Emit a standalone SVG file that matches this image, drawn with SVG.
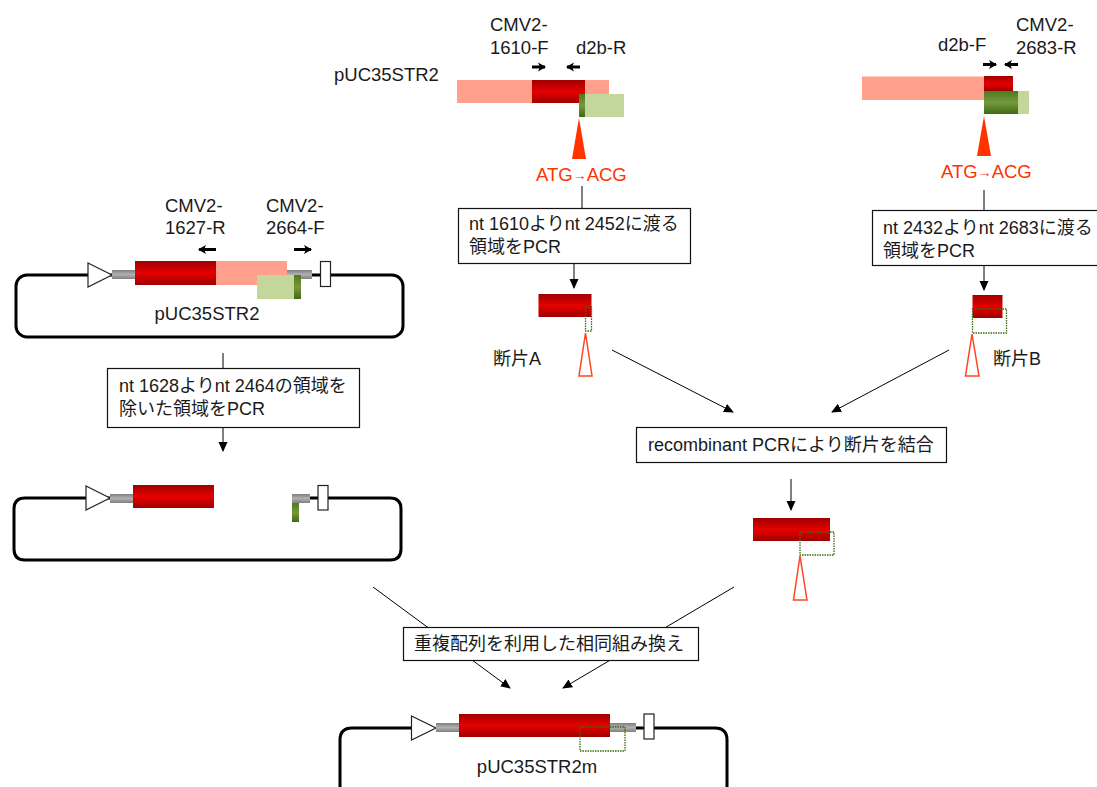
<svg xmlns="http://www.w3.org/2000/svg" width="1097" height="787" viewBox="0 0 1097 787">
<defs>
<linearGradient id="gr" x1="0" y1="0" x2="0" y2="1"><stop offset="0" stop-color="#a00000"/><stop offset="0.5" stop-color="#e60000"/><stop offset="1" stop-color="#a00000"/></linearGradient>
<linearGradient id="gg" x1="0" y1="0" x2="0" y2="1"><stop offset="0" stop-color="#4c7a1e"/><stop offset="0.5" stop-color="#76983c"/><stop offset="1" stop-color="#3f6a14"/></linearGradient>
<linearGradient id="gy" x1="0" y1="0" x2="0" y2="1"><stop offset="0" stop-color="#808080"/><stop offset="0.5" stop-color="#b0b0b0"/><stop offset="1" stop-color="#808080"/></linearGradient>
<marker id="ah" markerUnits="userSpaceOnUse" markerWidth="10" markerHeight="10" refX="9" refY="5" orient="auto"><path d="M0,0.5L10,5L0,9.500Z" fill="#000"/></marker>
<marker id="pa" markerUnits="userSpaceOnUse" markerWidth="8" markerHeight="10" refX="7" refY="5" orient="auto"><path d="M0,0.5L8,5L0,9.500L2,5Z" fill="#000"/></marker>
</defs>
<style>
text{font-family:"Liberation Sans","Noto Sans CJK JP",sans-serif;font-size:18.500px;fill:#1a1a1a}
.c{text-anchor:middle}
.t{font-size:18px}
.red{fill:url(#gr)}.grn{fill:url(#gg)}.gry{fill:url(#gy)}
.sal{fill:#ff9f8c}.lg{fill:#c4d79b}
.loop{fill:none;stroke:#000;stroke-width:3}
.tri{fill:#fff;stroke:#222;stroke-width:1.2}
.wb{fill:#fff;stroke:#222;stroke-width:1.2}
.box{fill:#fff;stroke:#111;stroke-width:1.2}
.dot{fill:none;stroke:#3a6a10;stroke-width:1.300;stroke-dasharray:1.500 1}
.rt{fill:#ff3300}.ot{fill:#fff;stroke:#ff4422;stroke-width:1.500}
.ln{stroke:#000;stroke-width:1;fill:none}
.ar{stroke:#000;stroke-width:1;fill:none;marker-end:url(#ah)}
.pr{stroke:#000;stroke-width:3;fill:none;marker-end:url(#pa)}
.atg{fill:#ff3300}
.atg tspan{fill:#ff3300;font-size:14px}
</style>

<g id="connectors">
<line class="ln" x1="223" y1="353" x2="223" y2="368"/>
<line class="ar" x1="223" y1="427" x2="223" y2="451"/>
<line class="ln" x1="582" y1="186" x2="582" y2="208"/>
<line class="ar" x1="574" y1="264" x2="574" y2="288"/>
<line class="ln" x1="984" y1="190" x2="984" y2="210"/>
<line class="ar" x1="984" y1="266" x2="984" y2="290"/>
<line class="ar" x1="612" y1="350" x2="733" y2="412"/>
<line class="ar" x1="949" y1="350" x2="832" y2="412"/>
<line class="ar" x1="791" y1="479" x2="791" y2="510"/>
<line class="ar" x1="373" y1="587" x2="510" y2="688"/>
<line class="ar" x1="734" y1="587" x2="563" y2="688"/>
</g>

<g id="plasmid-a">
<rect class="loop" x="16" y="275" width="387" height="62" rx="11"/>
<polygon class="tri" points="88,263 112,275 88,287"/>
<rect class="gry" x="112" y="270" width="23" height="9"/>
<rect class="gry" x="287" y="270" width="25" height="9"/>
<rect class="red" x="135" y="261" width="81" height="24"/>
<rect class="sal" x="216" y="261" width="71" height="24"/>
<rect class="lg" x="257" y="275" width="37" height="24"/>
<rect class="grn" x="294" y="275" width="7" height="24"/>
<rect class="wb" x="320.500" y="261.500" width="10" height="25"/>
<text class="c" x="207" y="320">pUC35STR2</text>
<line class="pr" x1="216" y1="249.500" x2="199" y2="249.500"/>
<line class="pr" x1="294" y1="249.500" x2="311" y2="249.500"/>
<text x="165" y="212">CMV2-</text><text x="165" y="234">1627-R</text>
<text x="266" y="212">CMV2-</text><text x="266" y="234">2664-F</text>
</g>

<g id="box-delete">
<rect class="box" x="107.500" y="368.500" width="252" height="59"/>
<text class="t" x="119" y="392">nt 1628よりnt 2464の領域を</text>
<text class="t" x="119" y="415">除いた領域をPCR</text>
</g>

<g id="plasmid-b">
<path class="loop" d="M110,498H25Q14,498 14,509V549Q14,560 25,560H390Q401,560 401,549V509Q401,498 390,498H310"/>
<polygon class="tri" points="86,486 110,498 86,510"/>
<rect class="gry" x="110" y="494" width="23" height="9"/>
<rect class="red" x="133" y="485" width="81" height="23"/>
<rect class="gry" x="292" y="494" width="18" height="9"/>
<rect class="grn" x="292" y="503" width="7" height="19"/>
<rect class="wb" x="318" y="485.500" width="10" height="24.500"/>
</g>

<g id="template-a">
<text x="334" y="81">pUC35STR2</text>
<rect class="sal" x="457" y="80" width="152" height="23"/>
<rect class="red" x="532" y="80" width="53" height="23"/>
<rect class="lg" x="585" y="94" width="39" height="23"/>
<rect class="grn" x="579" y="94" width="6" height="23"/>
<polygon class="rt" points="579,118 572,159 586,159"/>
<line class="pr" x1="532" y1="67" x2="545" y2="67"/>
<line class="pr" x1="580" y1="67" x2="567" y2="67"/>
<text x="490" y="31">CMV2-</text><text x="490" y="54">1610-F</text>
<text x="576" y="54">d2b-R</text>
<text class="atg" x="536" y="181">ATG<tspan dy="-1">→</tspan><tspan dy="1" style="font-size:18.500px">ACG</tspan></text>
</g>

<g id="box-a">
<rect class="box" x="458.500" y="208.500" width="232" height="55"/>
<text class="t" x="469" y="230">nt 1610よりnt 2452に渡る</text>
<text class="t" x="469" y="253">領域をPCR</text>
</g>

<g id="fragment-a">
<rect class="red" x="538.500" y="294" width="53" height="23"/>
<rect class="dot" x="585.500" y="307" width="6" height="24"/>
<polygon class="ot" points="585.500,333 579,376 592,376"/>
<text class="t" x="493" y="365">断片A</text>
</g>

<g id="template-b">
<rect class="sal" x="862" y="76.500" width="122" height="23.500"/>
<rect class="red" x="984" y="76" width="29" height="15"/>
<rect class="lg" x="1018" y="91" width="11" height="23"/>
<rect class="grn" x="984" y="91" width="34" height="23"/>
<polygon class="rt" points="984,116 977,156 991,156"/>
<line class="pr" x1="983" y1="64.500" x2="996" y2="64.500"/>
<line class="pr" x1="1018" y1="64.500" x2="1005" y2="64.500"/>
<text x="938" y="51">d2b-F</text>
<text x="1016" y="31">CMV2-</text><text x="1016" y="54">2683-R</text>
<text class="atg" x="941" y="178">ATG<tspan dy="-1">→</tspan><tspan dy="1" style="font-size:18.500px">ACG</tspan></text>
</g>

<g id="box-b">
<rect class="box" x="872.500" y="210.500" width="232" height="55"/>
<text class="t" x="883" y="234">nt 2432よりnt 2683に渡る</text>
<text class="t" x="883" y="257">領域をPCR</text>
</g>

<g id="fragment-b">
<rect class="red" x="972.500" y="295" width="30" height="23"/>
<rect class="dot" x="972.500" y="309" width="34" height="24"/>
<polygon class="ot" points="972,334 965.500,376 979,376"/>
<text class="t" x="993" y="365">断片B</text>
</g>

<g id="box-recombinant">
<rect class="box" x="636.500" y="427.500" width="310" height="35"/>
<text class="t" x="648" y="451">recombinant PCRにより断片を結合</text>
</g>

<g id="fragment-c">
<rect class="red" x="753" y="518" width="77" height="23"/>
<rect class="dot" x="800" y="532" width="34" height="23"/>
<polygon class="ot" points="800,556 793.500,600 807,600"/>
</g>

<g id="box-homologous">
<rect class="box" x="403.500" y="627.500" width="295" height="33"/>
<text class="t" x="414" y="650">重複配列を利用した相同組み換え</text>
</g>

<g id="plasmid-c">
<path class="loop" d="M411,728H352Q340,728 340,740V787M636,728H715Q727,728 727,740V787"/>
<polygon class="tri" points="411.500,716 436,728 411.500,740"/>
<rect class="gry" x="436" y="723" width="23" height="9"/>
<rect class="gry" x="610" y="723" width="26" height="9"/>
<rect class="red" x="459" y="714" width="151" height="23"/>
<rect class="dot" x="580" y="727" width="45" height="24"/>
<rect class="wb" x="644" y="714" width="10" height="25"/>
<text class="c" x="537" y="773">pUC35STR2m</text>
</g>
</svg>
